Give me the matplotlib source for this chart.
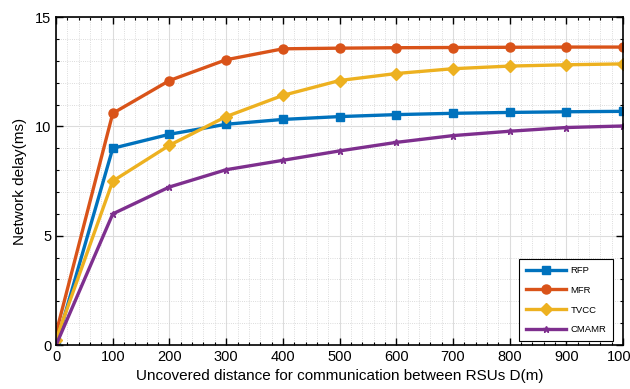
import matplotlib
matplotlib.use("Agg")
import matplotlib.pyplot as plt
from matplotlib.ticker import MultipleLocator

plt.rcParams["font.family"] = ["Liberation Sans", "DejaVu Sans"]

# uncovered distance between RSUs (m)
distance = [0, 100, 200, 300, 400, 500, 600, 700, 800, 900, 1000]

# network delay (ms) per scheme
rfp = [0.0, 9.0, 9.64, 10.1, 10.32, 10.45, 10.54, 10.6, 10.64, 10.67, 10.69]
mfr = [0.55, 10.6, 12.1, 13.05, 13.55, 13.58, 13.6, 13.61, 13.62, 13.63, 13.63]
tvcc = [0.25, 7.5, 9.14, 10.45, 11.42, 12.1, 12.42, 12.64, 12.76, 12.82, 12.86]
cmamr = [0.0, 6.0, 7.23, 8.02, 8.45, 8.88, 9.27, 9.58, 9.78, 9.95, 10.02]

fig = plt.figure(figsize=(6.3, 3.89), dpi=100)
ax = fig.add_axes([0.089, 0.113, 0.9, 0.843])

ax.plot(distance, rfp, color="#0072BD", lw=2.4, marker="s", ms=6, label="RFP")
ax.plot(distance, mfr, color="#D95319", lw=2.4, marker="o", ms=6.5, label="MFR")
ax.plot(distance, tvcc, color="#EDB120", lw=2.4, marker="D", ms=6.5, label="TVCC")
ax.plot(distance, cmamr, color="#7E2F8E", lw=2.4, marker="*", ms=5, label="CMAMR")

ax.set_xlim(0, 1000)
ax.set_ylim(0, 15)
ax.set_xticks(range(0, 1001, 100))
ax.set_yticks([0, 5, 10, 15])
ax.xaxis.set_minor_locator(MultipleLocator(20))
ax.yaxis.set_minor_locator(MultipleLocator(1))
ax.tick_params(which="both", direction="in", top=True, right=True, labelsize=10.5)
ax.tick_params(which="major", length=5, width=1)
ax.tick_params(which="minor", length=2.5, width=0.8)

ax.grid(which="major", color="#dcdcdc", lw=0.8)
ax.grid(which="minor", color="#d0d0d0", lw=0.6, ls=":")
ax.set_axisbelow(True)
for s in ax.spines.values():
    s.set_linewidth(1.2)

ax.set_xlabel("Uncovered distance for communication between RSUs D(m)", fontsize=11, labelpad=4)
ax.set_ylabel("Network delay(ms)", fontsize=11, labelpad=6)

leg = ax.legend(loc="lower right", bbox_to_anchor=(0.982, 0.012), fontsize=6.8,
                fancybox=False, edgecolor="black", framealpha=1,
                handlelength=4.2, handletextpad=0.5, labelspacing=1.15,
                borderpad=0.7, borderaxespad=0)
leg.get_frame().set_linewidth(0.8)

fig.savefig("out.png", dpi=100)
